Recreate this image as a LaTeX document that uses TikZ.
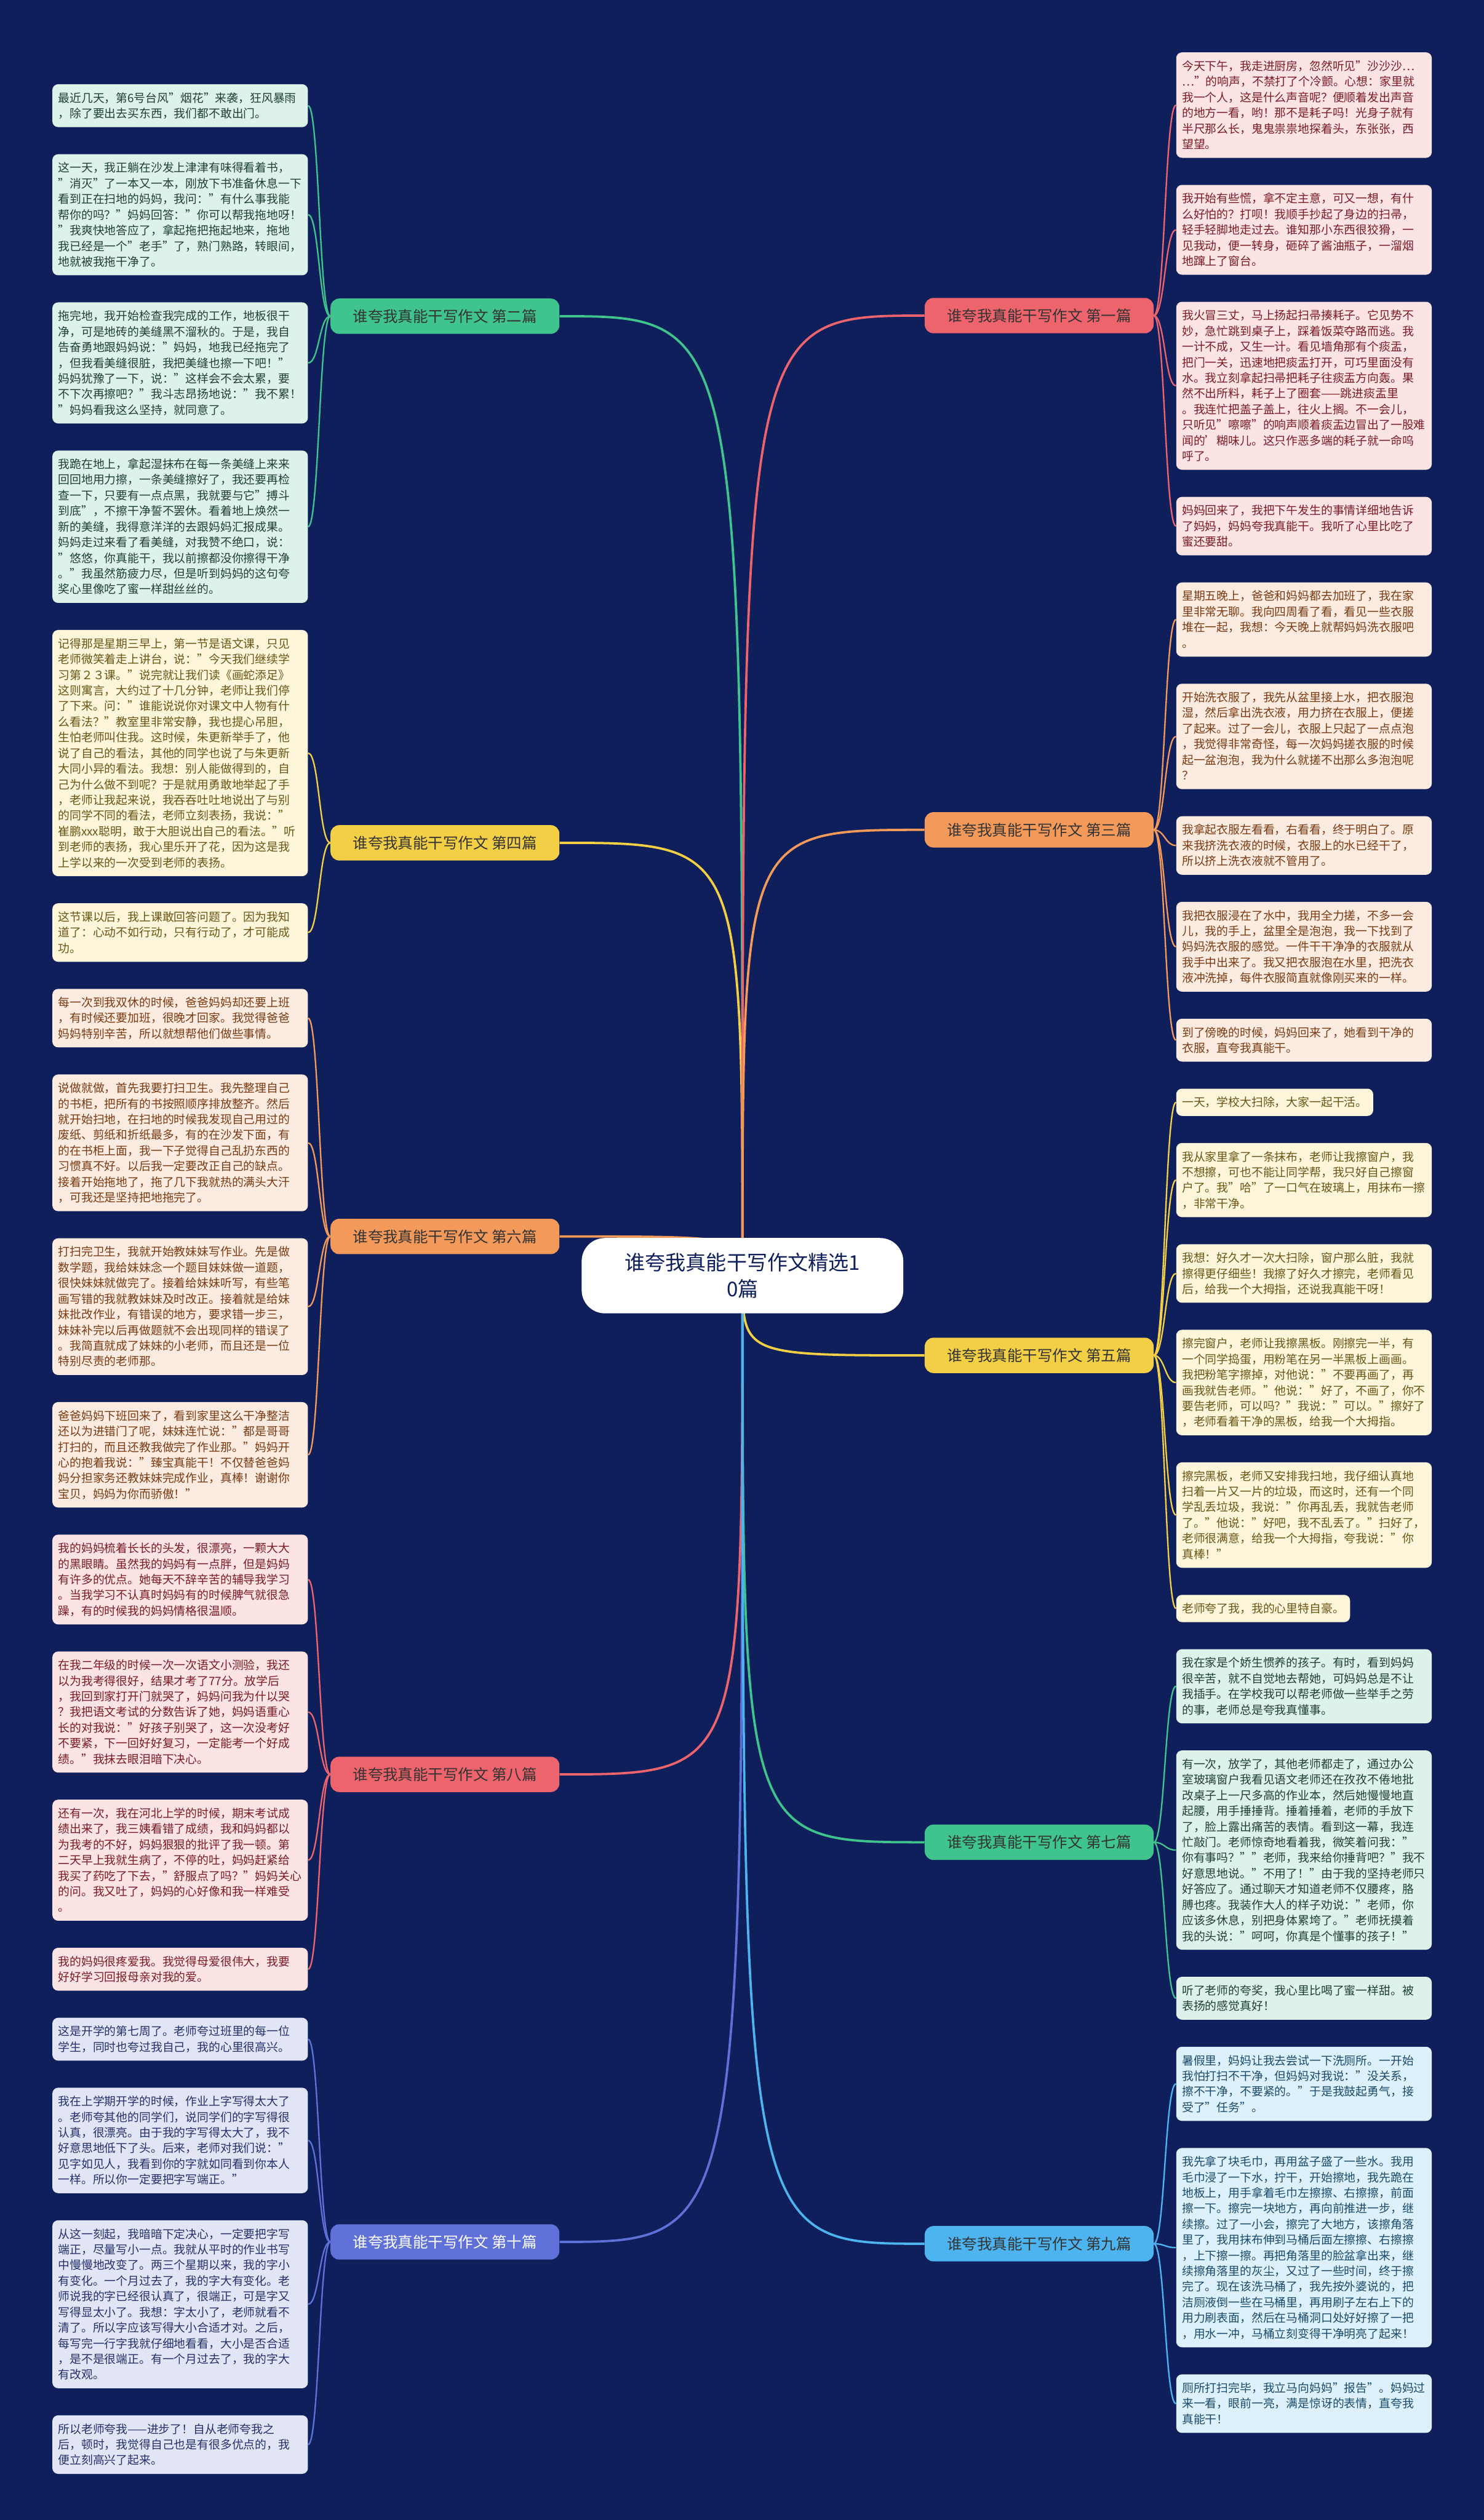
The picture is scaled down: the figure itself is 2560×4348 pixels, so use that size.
\documentclass[tikz,border=0pt]{standalone}
\usepackage{fontspec}
\setmainfont{Noto Sans CJK SC}
\usepackage{xcolor}
\usepackage{tikz}
\usetikzlibrary{positioning, calc}

\definecolor{navy}{HTML}{0E1F5B}
\definecolor{mintbg}{HTML}{DDF3E9}
\definecolor{minttx}{HTML}{1E4035}
\definecolor{mintln}{HTML}{3EC48C}
\definecolor{sunbg}{HTML}{FDF6DB}
\definecolor{suntx}{HTML}{6B5516}
\definecolor{sunln}{HTML}{F3CF45}
\definecolor{peachbg}{HTML}{FCEBE0}
\definecolor{peachtx}{HTML}{7A3A12}
\definecolor{peachln}{HTML}{F39A5A}
\definecolor{rosebg}{HTML}{FCE3E4}
\definecolor{rosetx}{HTML}{7B1B26}
\definecolor{roseln}{HTML}{EE646C}
\definecolor{irisbg}{HTML}{E2E5F6}
\definecolor{iristx}{HTML}{26306B}
\definecolor{irisln}{HTML}{5F70D8}
\definecolor{skybg}{HTML}{DCF1FB}
\definecolor{skytx}{HTML}{1B4A6B}
\definecolor{skyln}{HTML}{4DB4EF}

\pgfdeclarelayer{bg}
\pgfsetlayers{bg,main}

\newcommand{\lnstrut}{\rule[-1.4pt]{0pt}{11.4pt}}

\tikzset{
  leaf/.style={rounded corners=0.2cm, align=left, inner xsep=0.2cm, inner ysep=0.27cm,
    font=\fontsize{11.38pt}{15.36pt}\selectfont,
    execute at begin node=\lnstrut, execute at end node=\lnstrut},
  wide/.style={text width=8.42cm},
  mint/.style={fill=mintbg, text=minttx},
  sun/.style={fill=sunbg, text=suntx},
  peach/.style={fill=peachbg, text=peachtx},
  rose/.style={fill=rosebg, text=rosetx},
  iris/.style={fill=irisbg, text=iristx},
  sky/.style={fill=skybg, text=skytx},
  branch/.style={rounded corners=0.3cm, minimum width=7.9cm, minimum height=1.22cm,
    text=black!80, font=\fontsize{14.8pt}{18pt}\selectfont},
  hub/.style={fill=white, rounded corners=0.8cm, align=center, text=navy,
    minimum width=11.1cm, minimum height=2.6cm, font=\fontsize{20pt}{26pt}\selectfont},
  twigl/.style={to path={.. controls +(-19,0) and +(19,0) .. (\tikztotarget)}},
  twigr/.style={to path={.. controls +(19,0) and +(-19,0) .. (\tikztotarget)}},
  limb/.style={to path={.. controls (\tikztostart |- \tikztotarget) .. (\tikztotarget)}}
}

\begin{document}
\begin{tikzpicture}[x=0.02cm, y=-0.02cm, node distance=0.92cm]
  \useasboundingbox (0,0) rectangle (2560,4348);

  % centre
  \node[hub] (c) at (1281,2201) {谁夸我真能干写作文精选1\\0篇};

  % left column
  \node[leaf, wide, mint] (l21) at (90,145) [anchor=north west] {最近几天，第6号台风"烟花"来袭，狂风暴雨\\，除了要出去买东西，我们都不敢出门。};
  \node[leaf, wide, mint] (l22) [below=of l21.south west, anchor=north west] {这一天，我正躺在沙发上津津有味得看着书，\\"消灭"了一本又一本，刚放下书准备休息一下\\看到正在扫地的妈妈，我问："有什么事我能\\帮你的吗？"妈妈回答："你可以帮我拖地呀！\\"我爽快地答应了，拿起拖把拖起地来，拖地\\我已经是一个"老手"了，熟门熟路，转眼间，\\地就被我拖干净了。};
  \node[leaf, wide, mint] (l23) [below=of l22.south west, anchor=north west] {拖完地，我开始检查我完成的工作，地板很干\\净，可是地砖的美缝黑不溜秋的。于是，我自\\告奋勇地跟妈妈说："妈妈，地我已经拖完了\\，但我看美缝很脏，我把美缝也擦一下吧！"\\妈妈犹豫了一下，说："这样会不会太累，要\\不下次再擦吧？"我斗志昂扬地说："我不累！\\"妈妈看我这么坚持，就同意了。};
  \node[leaf, wide, mint] (l24) [below=of l23.south west, anchor=north west] {我跪在地上，拿起湿抹布在每一条美缝上来来\\回回地用力擦，一条美缝擦好了，我还要再检\\查一下，只要有一点点黑，我就要与它"搏斗\\到底"，不擦干净誓不罢休。看着地上焕然一\\新的美缝，我得意洋洋的去跟妈妈汇报成果。\\妈妈走过来看了看美缝，对我赞不绝口，说：\\"悠悠，你真能干，我以前擦都没你擦得干净\\。"我虽然筋疲力尽，但是听到妈妈的这句夸\\奖心里像吃了蜜一样甜丝丝的。};
  \node[leaf, wide, sun] (l41) [below=of l24.south west, anchor=north west] {记得那是星期三早上，第一节是语文课，只见\\老师微笑着走上讲台，说："今天我们继续学\\习第２３课。"说完就让我们读《画蛇添足》\\这则寓言，大约过了十几分钟，老师让我们停\\了下来。问："谁能说说你对课文中人物有什\\么看法？"教室里非常安静，我也提心吊胆，\\生怕老师叫住我。这时候，朱更新举手了，他\\说了自己的看法，其他的同学也说了与朱更新\\大同小异的看法。我想：别人能做得到的，自\\己为什么做不到呢？于是就用勇敢地举起了手\\，老师让我起来说，我吞吞吐吐地说出了与别\\的同学不同的看法，老师立刻表扬，我说："\\崔鹏xxx聪明，敢于大胆说出自己的看法。"听\\到老师的表扬，我心里乐开了花，因为这是我\\上学以来的一次受到老师的表扬。};
  \node[leaf, wide, sun] (l42) [below=of l41.south west, anchor=north west] {这节课以后，我上课敢回答问题了。因为我知\\道了：心动不如行动，只有行动了，才可能成\\功。};
  \node[leaf, wide, peach] (l61) [below=of l42.south west, anchor=north west] {每一次到我双休的时候，爸爸妈妈却还要上班\\，有时候还要加班，很晚才回家。我觉得爸爸\\妈妈特别辛苦，所以就想帮他们做些事情。};
  \node[leaf, wide, peach] (l62) [below=of l61.south west, anchor=north west] {说做就做，首先我要打扫卫生。我先整理自己\\的书柜，把所有的书按照顺序排放整齐。然后\\就开始扫地，在扫地的时候我发现自己用过的\\废纸、剪纸和折纸最多，有的在沙发下面，有\\的在书柜上面，我一下子觉得自己乱扔东西的\\习惯真不好。以后我一定要改正自己的缺点。\\接着开始拖地了，拖了几下我就热的满头大汗\\，可我还是坚持把地拖完了。};
  \node[leaf, wide, peach] (l63) [below=of l62.south west, anchor=north west] {打扫完卫生，我就开始教妹妹写作业。先是做\\数学题，我给妹妹念一个题目妹妹做一道题，\\很快妹妹就做完了。接着给妹妹听写，有些笔\\画写错的我就教妹妹及时改正。接着就是给妹\\妹批改作业，有错误的地方，要求错一步三，\\妹妹补完以后再做题就不会出现同样的错误了\\。我简直就成了妹妹的小老师，而且还是一位\\特别尽责的老师那。};
  \node[leaf, wide, peach] (l64) [below=of l63.south west, anchor=north west] {爸爸妈妈下班回来了，看到家里这么干净整洁\\还以为进错门了呢，妹妹连忙说："都是哥哥\\打扫的，而且还教我做完了作业那。"妈妈开\\心的抱着我说："臻宝真能干！不仅替爸爸妈\\妈分担家务还教妹妹完成作业，真棒！谢谢你\\宝贝，妈妈为你而骄傲！"};
  \node[leaf, wide, rose] (l81) [below=of l64.south west, anchor=north west] {我的妈妈梳着长长的头发，很漂亮，一颗大大\\的黑眼睛。虽然我的妈妈有一点胖，但是妈妈\\有许多的优点。她每天不辞辛苦的辅导我学习\\。当我学习不认真时妈妈有的时候脾气就很急\\躁，有的时候我的妈妈情格很温顺。};
  \node[leaf, wide, rose] (l82) [below=of l81.south west, anchor=north west] {在我二年级的时候一次一次语文小测验，我还\\以为我考得很好，结果才考了77分。放学后\\，我回到家打开门就哭了，妈妈问我为什以哭\\？我把语文考试的分数告诉了她，妈妈语重心\\长的对我说："好孩子别哭了，这一次没考好\\不要紧，下一回好好复习，一定能考一个好成\\绩。"我抹去眼泪暗下决心。};
  \node[leaf, wide, rose] (l83) [below=of l82.south west, anchor=north west] {还有一次，我在河北上学的时候，期末考试成\\绩出来了，我三姨看错了成绩，我和妈妈都以\\为我考的不好，妈妈狠狠的批评了我一顿。第\\二天早上我就生病了，不停的吐，妈妈赶紧给\\我买了药吃了下去，"舒服点了吗？"妈妈关心\\的问。我又吐了，妈妈的心好像和我一样难受\\。};
  \node[leaf, wide, rose] (l84) [below=of l83.south west, anchor=north west] {我的妈妈很疼爱我。我觉得母爱很伟大，我要\\好好学习回报母亲对我的爱。};
  \node[leaf, wide, iris] (l101) [below=of l84.south west, anchor=north west] {这是开学的第七周了。老师夸过班里的每一位\\学生，同时也夸过我自己，我的心里很高兴。};
  \node[leaf, wide, iris] (l102) [below=of l101.south west, anchor=north west] {我在上学期开学的时候，作业上字写得太大了\\。老师夸其他的同学们，说同学们的字写得很\\认真，很漂亮。由于我的字写得太大了，我不\\好意思地低下了头。后来，老师对我们说："\\见字如见人，我看到你的字就如同看到你本人\\一样。所以你一定要把字写端正。"};
  \node[leaf, wide, iris] (l103) [below=of l102.south west, anchor=north west] {从这一刻起，我暗暗下定决心，一定要把字写\\端正，尽量写小一点。我就从平时的作业书写\\中慢慢地改变了。两三个星期以来，我的字小\\有变化。一个月过去了，我的字大有变化。老\\师说我的字已经很认真了，很端正，可是字又\\写得显太小了。我想：字太小了，老师就看不\\清了。所以字应该写得大小合适才对。之后，\\每写完一行字我就仔细地看看，大小是否合适\\，是不是很端正。有一个月过去了，我的字大\\有改观。};
  \node[leaf, wide, iris] (l104) [below=of l103.south west, anchor=north west] {所以老师夸我——进步了！自从老师夸我之\\后，顿时，我觉得自己也是有很多优点的，我\\便立刻高兴了起来。};

  % right column
  \node[leaf, wide, rose] (r11) at (2029,90) [anchor=north west] {今天下午，我走进厨房，忽然听见"沙沙沙…\\…"的响声，不禁打了个冷颤。心想：家里就\\我一个人，这是什么声音呢？便顺着发出声音\\的地方一看，哟！那不是耗子吗！光身子就有\\半尺那么长，鬼鬼祟祟地探着头，东张张，西\\望望。};
  \node[leaf, wide, rose] (r12) [below=of r11.south west, anchor=north west] {我开始有些慌，拿不定主意，可又一想，有什\\么好怕的？打呗！我顺手抄起了身边的扫帚，\\轻手轻脚地走过去。谁知那小东西很狡猾，一\\见我动，便一转身，砸碎了酱油瓶子，一溜烟\\地蹿上了窗台。};
  \node[leaf, wide, rose] (r13) [below=of r12.south west, anchor=north west] {我火冒三丈，马上扬起扫帚揍耗子。它见势不\\妙，急忙跳到桌子上，踩着饭菜夺路而逃。我\\一计不成，又生一计。看见墙角那有个痰盂，\\把门一关，迅速地把痰盂打开，可巧里面没有\\水。我立刻拿起扫帚把耗子往痰盂方向轰。果\\然不出所料，耗子上了圈套——跳进痰盂里\\。我连忙把盖子盖上，往火上搁。不一会儿，\\只听见"嚓嚓"的响声顺着痰盂边冒出了一股难\\闻的'糊味儿。这只作恶多端的耗子就一命呜\\呼了。};
  \node[leaf, wide, rose] (r14) [below=of r13.south west, anchor=north west] {妈妈回来了，我把下午发生的事情详细地告诉\\了妈妈，妈妈夸我真能干。我听了心里比吃了\\蜜还要甜。};
  \node[leaf, wide, peach] (r31) [below=of r14.south west, anchor=north west] {星期五晚上，爸爸和妈妈都去加班了，我在家\\里非常无聊。我向四周看了看，看见一些衣服\\堆在一起，我想：今天晚上就帮妈妈洗衣服吧\\。};
  \node[leaf, wide, peach] (r32) [below=of r31.south west, anchor=north west] {开始洗衣服了，我先从盆里接上水，把衣服泡\\湿，然后拿出洗衣液，用力挤在衣服上，便搓\\了起来。过了一会儿，衣服上只起了一点点泡\\，我觉得非常奇怪，每一次妈妈搓衣服的时候\\起一盆泡泡，我为什么就搓不出那么多泡泡呢\\？};
  \node[leaf, wide, peach] (r33) [below=of r32.south west, anchor=north west] {我拿起衣服左看看，右看看，终于明白了。原\\来我挤洗衣液的时候，衣服上的水已经干了，\\所以挤上洗衣液就不管用了。};
  \node[leaf, wide, peach] (r34) [below=of r33.south west, anchor=north west] {我把衣服浸在了水中，我用全力搓，不多一会\\儿，我的手上，盆里全是泡泡，我一下找到了\\妈妈洗衣服的感觉。一件干干净净的衣服就从\\我手中出来了。我又把衣服泡在水里，把洗衣\\液冲洗掉，每件衣服简直就像刚买来的一样。};
  \node[leaf, wide, peach] (r35) [below=of r34.south west, anchor=north west] {到了傍晚的时候，妈妈回来了，她看到干净的\\衣服，直夸我真能干。};
  \node[leaf, sun] (r51) [below=of r35.south west, anchor=north west] {一天，学校大扫除，大家一起干活。};
  \node[leaf, wide, sun] (r52) [below=of r51.south west, anchor=north west] {我从家里拿了一条抹布，老师让我擦窗户，我\\不想擦，可也不能让同学帮，我只好自己擦窗\\户了。我"哈"了一口气在玻璃上，用抹布一擦\\，非常干净。};
  \node[leaf, wide, sun] (r53) [below=of r52.south west, anchor=north west] {我想：好久才一次大扫除，窗户那么脏，我就\\擦得更仔细些！我擦了好久才擦完，老师看见\\后，给我一个大拇指，还说我真能干呀！};
  \node[leaf, wide, sun] (r54) [below=of r53.south west, anchor=north west] {擦完窗户，老师让我擦黑板。刚擦完一半，有\\一个同学捣蛋，用粉笔在另一半黑板上画画。\\我把粉笔字擦掉，对他说："不要再画了，再\\画我就告老师。"他说："好了，不画了，你不\\要告老师，可以吗？"我说："可以。"擦好了\\，老师看着干净的黑板，给我一个大拇指。};
  \node[leaf, wide, sun] (r55) [below=of r54.south west, anchor=north west] {擦完黑板，老师又安排我扫地，我仔细认真地\\扫着一片又一片的垃圾，而这时，还有一个同\\学乱丢垃圾，我说："你再乱丢，我就告老师\\了。"他说："好吧，我不乱丢了。"扫好了，\\老师很满意，给我一个大拇指，夸我说："你\\真棒！"};
  \node[leaf, sun] (r56) [below=of r55.south west, anchor=north west] {老师夸了我，我的心里特自豪。};
  \node[leaf, wide, mint] (r71) [below=of r56.south west, anchor=north west] {我在家是个娇生惯养的孩子。有时，看到妈妈\\很辛苦，就不自觉地去帮她，可妈妈总是不让\\我插手。在学校我可以帮老师做一些举手之劳\\的事，老师总是夸我真懂事。};
  \node[leaf, wide, mint] (r72) [below=of r71.south west, anchor=north west] {有一次，放学了，其他老师都走了，通过办公\\室玻璃窗户我看见语文老师还在孜孜不倦地批\\改桌子上一尺多高的作业本，然后她慢慢地直\\起腰，用手捶捶背。捶着捶着，老师的手放下\\了，脸上露出痛苦的表情。看到这一幕，我连\\忙敲门。老师惊奇地看着我，微笑着问我："\\你有事吗？""老师，我来给你捶背吧？"我不\\好意思地说。"不用了！"由于我的坚持老师只\\好答应了。通过聊天才知道老师不仅腰疼，胳\\膊也疼。我装作大人的样子劝说："老师，你\\应该多休息，别把身体累垮了。"老师抚摸着\\我的头说："呵呵，你真是个懂事的孩子！"};
  \node[leaf, wide, mint] (r73) [below=of r72.south west, anchor=north west] {听了老师的夸奖，我心里比喝了蜜一样甜。被\\表扬的感觉真好！};
  \node[leaf, wide, sky] (r91) [below=of r73.south west, anchor=north west] {暑假里，妈妈让我去尝试一下洗厕所。一开始\\我怕打扫不干净，但妈妈对我说："没关系，\\擦不干净，不要紧的。"于是我鼓起勇气，接\\受了"任务"。};
  \node[leaf, wide, sky] (r92) [below=of r91.south west, anchor=north west] {我先拿了块毛巾，再用盆子盛了一些水。我用\\毛巾浸了一下水，拧干，开始擦地，我先跪在\\地板上，用手拿着毛巾左擦擦、右擦擦，前面\\擦一下。擦完一块地方，再向前推进一步，继\\续擦。过了一小会，擦完了大地方，该擦角落\\里了，我用抹布伸到马桶后面左擦擦、右擦擦\\，上下擦一擦。再把角落里的脸盆拿出来，继\\续擦角落里的灰尘，又过了一些时间，终于擦\\完了。现在该洗马桶了，我先按外婆说的，把\\洁厕液倒一些在马桶里，再用刷子左右上下的\\用力刷表面，然后在马桶洞口处好好擦了一把\\，用水一冲，马桶立刻变得干净明亮了起来！};
  \node[leaf, wide, sky] (r93) [below=of r92.south west, anchor=north west] {厕所打扫完毕，我立马向妈妈"报告"。妈妈过\\来一看，眼前一亮，满是惊讶的表情，直夸我\\真能干！};

  % branches
  \node[branch, fill=mintln] (b2) at ([xshift=8.68cm]$(l21.east)!.5!(l24.east)$) [anchor=east] {谁夸我真能干写作文 第二篇};
  \node[branch, fill=sunln] (b4) at ([xshift=8.68cm]$(l41.east)!.5!(l42.east)$) [anchor=east] {谁夸我真能干写作文 第四篇};
  \node[branch, fill=peachln] (b6) at ([xshift=8.68cm]$(l61.east)!.5!(l64.east)$) [anchor=east] {谁夸我真能干写作文 第六篇};
  \node[branch, fill=roseln] (b8) at ([xshift=8.68cm]$(l81.east)!.5!(l84.east)$) [anchor=east] {谁夸我真能干写作文 第八篇};
  \node[branch, fill=irisln, text=white] (b10) at ([xshift=8.68cm]$(l101.east)!.5!(l104.east)$) [anchor=east] {谁夸我真能干写作文 第十篇};
  \node[branch, fill=roseln] (b1) at ([xshift=-8.68cm]$(r11.west)!.5!(r14.west)$) [anchor=west] {谁夸我真能干写作文 第一篇};
  \node[branch, fill=peachln] (b3) at ([xshift=-8.68cm]$(r31.west)!.5!(r35.west)$) [anchor=west] {谁夸我真能干写作文 第三篇};
  \node[branch, fill=sunln] (b5) at ([xshift=-8.68cm]$(r51.west)!.5!(r56.west)$) [anchor=west] {谁夸我真能干写作文 第五篇};
  \node[branch, fill=mintln] (b7) at ([xshift=-8.68cm]$(r71.west)!.5!(r73.west)$) [anchor=west] {谁夸我真能干写作文 第七篇};
  \node[branch, fill=skyln] (b9) at ([xshift=-8.68cm]$(r91.west)!.5!(r93.west)$) [anchor=west] {谁夸我真能干写作文 第九篇};

  \begin{pgfonlayer}{bg}
    \fill[navy] (0,0) rectangle (2560,4348);

    % centre to branches
    \path[line width=0.08cm]
      (c.center) edge[limb, mintln] (b2.east)
                 edge[limb, sunln] (b4.east)
                 edge[limb, peachln] (b6.east)
                 edge[limb, roseln] (b8.east)
                 edge[limb, irisln] (b10.east)
                 edge[limb, roseln] (b1.west)
                 edge[limb, peachln] (b3.west)
                 edge[limb, sunln] (b5.west)
                 edge[limb, mintln] (b7.west)
                 edge[limb, skyln] (b9.west);

    % branches to leaves
    \path[line width=0.05cm, mintln]
      (b2.west) edge[twigl] (l21.east) edge[twigl] (l22.east)
                edge[twigl] (l23.east) edge[twigl] (l24.east);
    \path[line width=0.05cm, sunln]
      (b4.west) edge[twigl] (l41.east) edge[twigl] (l42.east);
    \path[line width=0.05cm, peachln]
      (b6.west) edge[twigl] (l61.east) edge[twigl] (l62.east)
                edge[twigl] (l63.east) edge[twigl] (l64.east);
    \path[line width=0.05cm, roseln]
      (b8.west) edge[twigl] (l81.east) edge[twigl] (l82.east)
                edge[twigl] (l83.east) edge[twigl] (l84.east);
    \path[line width=0.05cm, irisln]
      (b10.west) edge[twigl] (l101.east) edge[twigl] (l102.east)
                 edge[twigl] (l103.east) edge[twigl] (l104.east);
    \path[line width=0.05cm, roseln]
      (b1.east) edge[twigr] (r11.west) edge[twigr] (r12.west)
                edge[twigr] (r13.west) edge[twigr] (r14.west);
    \path[line width=0.05cm, peachln]
      (b3.east) edge[twigr] (r31.west) edge[twigr] (r32.west)
                edge[twigr] (r33.west) edge[twigr] (r34.west)
                edge[twigr] (r35.west);
    \path[line width=0.05cm, sunln]
      (b5.east) edge[twigr] (r51.west) edge[twigr] (r52.west)
                edge[twigr] (r53.west) edge[twigr] (r54.west)
                edge[twigr] (r55.west) edge[twigr] (r56.west);
    \path[line width=0.05cm, mintln]
      (b7.east) edge[twigr] (r71.west) edge[twigr] (r72.west)
                edge[twigr] (r73.west);
    \path[line width=0.05cm, skyln]
      (b9.east) edge[twigr] (r91.west) edge[twigr] (r92.west)
                edge[twigr] (r93.west);
  \end{pgfonlayer}
\end{tikzpicture}
\end{document}
